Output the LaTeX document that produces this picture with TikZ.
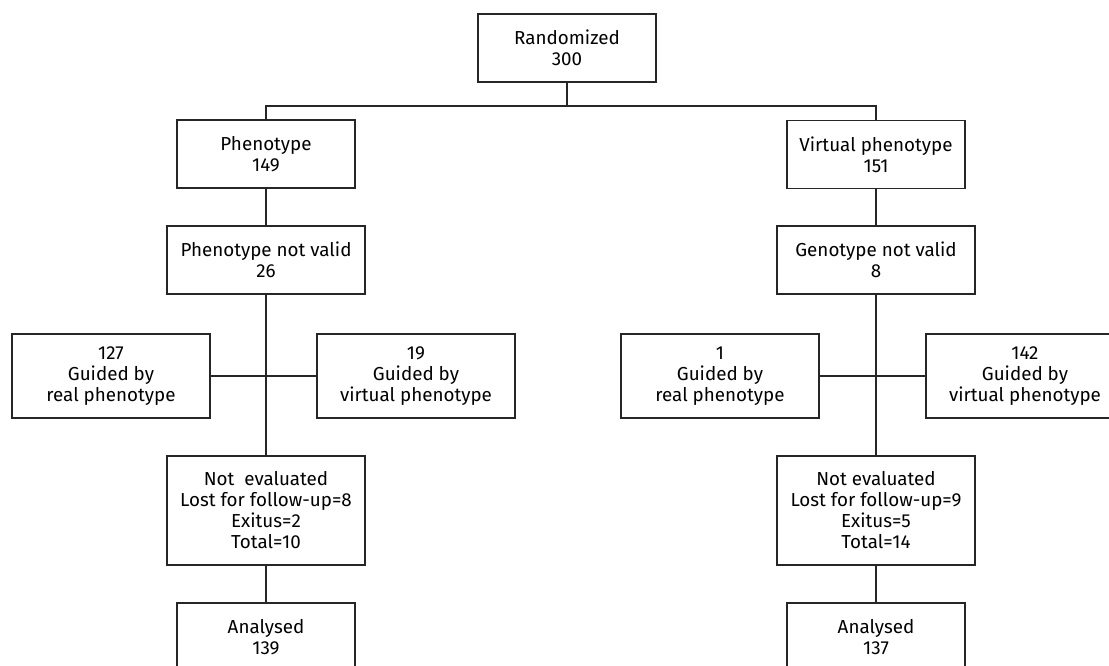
\documentclass[tikz,border=0pt]{standalone}
\usepackage{fontspec}
\setmainfont{Fira Sans}
\begin{document}
\begin{tikzpicture}[x=1pt,y=-1pt,
  box/.style={draw=black!85,line width=1.3pt,align=center,inner sep=0pt,
    font=\fontsize{18.8}{21}\selectfont},
  b177/.style={box,minimum width=178pt,minimum height=68pt},
  b198/.style={box,minimum width=198pt,minimum height=68pt},
  b198g/.style={box,minimum width=198pt,minimum height=84pt},
  b198n/.style={box,minimum width=198pt,minimum height=109pt},
  link/.style={draw=black!85,line width=1.3pt}]
\clip (0,0) rectangle (1109,666);
\fill[white] (0,0) rectangle (1109,666);
% top
\node[b177] (rand) at (567,48) {Randomized\\300};
\coordinate (top) at (567,106);
% left column
\node[b177] (phen) at (266,154) {Phenotype\\149};
\node[b198] (pnv) at (266,260) {Phenotype not valid\\26};
\node[b198g] (l127) at (111,376) {127\\Guided by\\real phenotype};
\node[b198g] (l19) at (416,376) {19\\Guided by\\virtual phenotype};
\node[b198n] (lne) at (266,510.5) {Not\ \ evaluated\\Lost for follow-up=8\\Exitus=2\\Total=10};
\node[b177] (lan) at (266,637) {Analysed\\139};
% right column
\node[b177] (virt) at (876,154.5) {Virtual phenotype\\151};
\node[b198] (gnv) at (876,260) {Genotype not valid\\8};
\node[b198g] (r1) at (720,376) {1\\Guided by\\real phenotype};
\node[b198g] (r142) at (1025,376) {142\\Guided by\\virtual phenotype};
\node[b198n] (rne) at (876,510.5) {Not evaluated\\Lost for follow-up=9\\Exitus=5\\Total=14};
\node[b177] (ran) at (876,637) {Analysed\\137};
% connectors
\draw[link] (rand.south) -- (top);
\draw[link] (phen.north) |- (top) -| (virt.north);
\draw[link] (phen.south) -- (pnv.north);
\draw[link] (pnv.south) -- (lne.north);
\draw[link] (l127.east) -- (l19.west);
\draw[link] (lne.south) -- (lan.north);
\draw[link] (virt.south) -- (gnv.north);
\draw[link] (gnv.south) -- (rne.north);
\draw[link] (r1.east) -- (r142.west);
\draw[link] (rne.south) -- (ran.north);
\end{tikzpicture}
\end{document}
